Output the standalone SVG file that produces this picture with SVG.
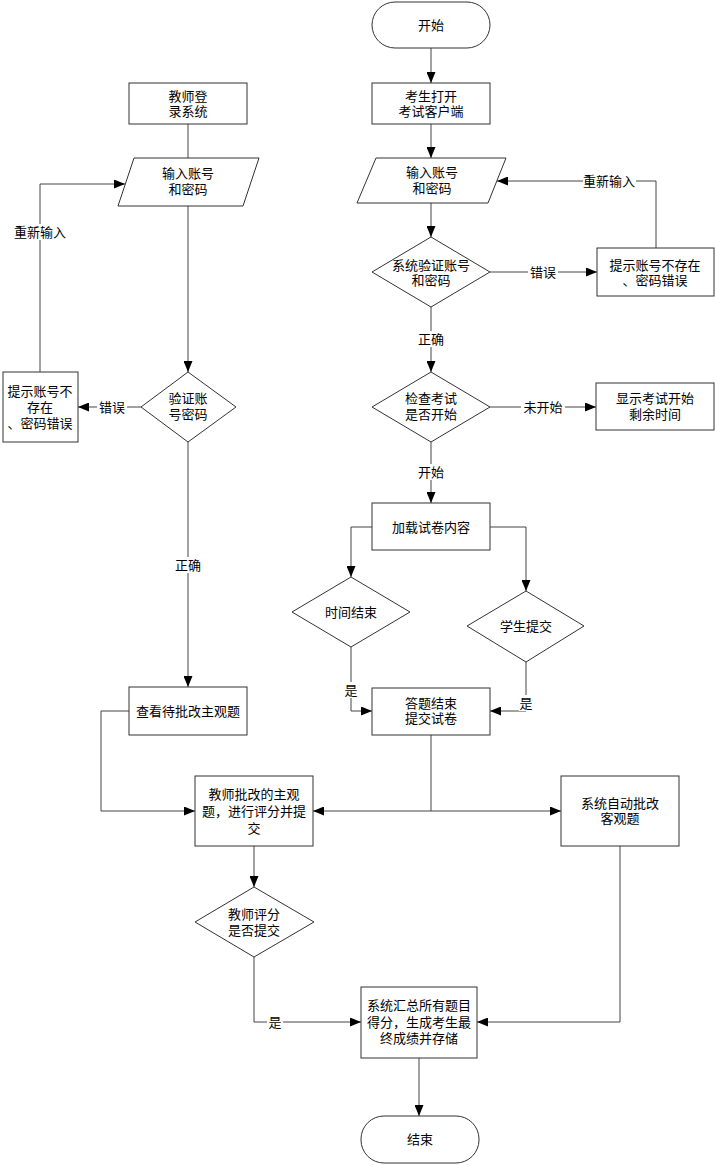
<svg xmlns="http://www.w3.org/2000/svg" width="715" height="1165" viewBox="0 0 715 1165">
<style>
.n{fill:#fff;stroke:#333;stroke-width:1}
.c{fill:none;stroke:#444;stroke-width:1}
.lb{fill:#fff;stroke:none}
text{font-family:"Noto Sans CJK SC","Liberation Sans",sans-serif;font-size:13px;text-anchor:middle;fill:#000}
</style>
<defs>
<marker id="a" markerWidth="11" markerHeight="9" refX="11" refY="4.5" orient="auto" markerUnits="userSpaceOnUse">
<path d="M0,0 L11,4.5 L0,9 z" fill="#000"/>
</marker>
</defs>
<rect width="715" height="1165" fill="#fff"/>
<g id="connectors">
<path class="c" d="M431,48 V83" marker-end="url(#a)"/>
<path class="c" d="M431,124 V158" marker-end="url(#a)"/>
<path class="c" d="M431,203 V237" marker-end="url(#a)"/>
<path class="c" d="M490,272 H597" marker-end="url(#a)"/>
<path class="c" d="M656,248 V181 H497" marker-end="url(#a)"/>
<path class="c" d="M431,307 V372" marker-end="url(#a)"/>
<path class="c" d="M490,407 H596" marker-end="url(#a)"/>
<path class="c" d="M431,442 V503" marker-end="url(#a)"/>
<path class="c" d="M372,527 H351 V577" marker-end="url(#a)"/>
<path class="c" d="M490,527 H526 V591" marker-end="url(#a)"/>
<path class="c" d="M351,647 V711 H372" marker-end="url(#a)"/>
<path class="c" d="M526,662 V711 H490" marker-end="url(#a)"/>
<path class="c" d="M431,735 V811 H313" marker-end="url(#a)"/>
<path class="c" d="M431,811 H561" marker-end="url(#a)"/>
<path class="c" d="M129,711 H101 V811 H195" marker-end="url(#a)"/>
<path class="c" d="M254,846 V887" marker-end="url(#a)"/>
<path class="c" d="M254,957 V1022 H361" marker-end="url(#a)"/>
<path class="c" d="M620,846 V1022 H477" marker-end="url(#a)"/>
<path class="c" d="M419,1058 V1116" marker-end="url(#a)"/>
<path class="c" d="M188,124 V158"/>
<path class="c" d="M188,206 V372" marker-end="url(#a)"/>
<path class="c" d="M141,407 H78" marker-end="url(#a)"/>
<path class="c" d="M40,372 V184 H125" marker-end="url(#a)"/>
<path class="c" d="M188,442 V687" marker-end="url(#a)"/>
<g id="labels">
<rect class="lb" x="528" y="264" width="30" height="16"/><text x="543" y="276.5">错误</text>
<rect class="lb" x="583" y="173" width="53" height="16"/><text x="609" y="185.5">重新输入</text>
<rect class="lb" x="416" y="331" width="30" height="16"/><text x="431" y="343.5">正确</text>
<rect class="lb" x="521" y="399" width="44" height="16"/><text x="543" y="411.5">未开始</text>
<rect class="lb" x="416" y="464" width="30" height="16"/><text x="431" y="476.5">开始</text>
<rect class="lb" x="344" y="682" width="15" height="16"/><text x="351" y="694.5">是</text>
<rect class="lb" x="519" y="695" width="15" height="16"/><text x="526" y="707.5">是</text>
<rect class="lb" x="267" y="1014" width="16" height="16"/><text x="275" y="1026.5">是</text>
<rect class="lb" x="97" y="399" width="30" height="16"/><text x="112" y="411.5">错误</text>
<rect class="lb" x="14" y="224" width="53" height="16"/><text x="40" y="236.5">重新输入</text>
<rect class="lb" x="173" y="557" width="30" height="16"/><text x="188" y="569.5">正确</text>
</g>
</g>
<g id="start"><rect class="n" x="372" y="2" width="118" height="46" rx="23"/><text x="431" y="29.5">开始</text></g>
<g id="open"><rect class="n" x="372" y="83" width="118" height="41"/><text x="431" y="101">考生打开</text><text x="431" y="116">考试客户端</text></g>
<g id="input2"><polygon class="n" points="376,158 506,158 488,203 357,203"/><text x="432" y="177">输入账号</text><text x="432" y="192.5">和密码</text></g>
<g id="verify2"><polygon class="n" points="431,237 490,272 431,307 372,272"/><text x="431" y="269.5">系统验证账号</text><text x="431" y="285">和密码</text></g>
<g id="err2"><rect class="n" x="597" y="248" width="117" height="48"/><text x="655" y="269.5">提示账号不存在</text><text x="655" y="285">、密码错误</text></g>
<g id="check"><polygon class="n" points="431,372 490,407 431,442 372,407"/><text x="431" y="403">检查考试</text><text x="431" y="418.5">是否开始</text></g>
<g id="remain"><rect class="n" x="596" y="383" width="118" height="47"/><text x="655" y="403">显示考试开始</text><text x="655" y="418.5">剩余时间</text></g>
<g id="load"><rect class="n" x="372" y="503" width="118" height="47"/><text x="431" y="531.5">加载试卷内容</text></g>
<g id="timeup"><polygon class="n" points="351,577 410,612 351,647 292,612"/><text x="351" y="616.5">时间结束</text></g>
<g id="submit"><polygon class="n" points="526,591 584,626 526,662 467,626"/><text x="526" y="630.5">学生提交</text></g>
<g id="finish"><rect class="n" x="372" y="688" width="118" height="47"/><text x="431" y="707.5">答题结束</text><text x="431" y="723">提交试卷</text></g>
<g id="tlogin"><rect class="n" x="129" y="83" width="118" height="41"/><text x="188" y="100.5">教师登</text><text x="188" y="115.5">录系统</text></g>
<g id="input1"><polygon class="n" points="134,158 259,158 243,206 118,206"/><text x="188" y="178">输入账号</text><text x="188" y="194">和密码</text></g>
<g id="verify1"><polygon class="n" points="188,372 236,407 188,442 141,407"/><text x="188" y="403">验证账</text><text x="188" y="418.5">号密码</text></g>
<g id="err1"><rect class="n" x="3" y="372" width="75" height="70"/><text x="40" y="395.5">提示账号不</text><text x="40" y="411.5">存在</text><text x="40" y="427.5">、密码错误</text></g>
<g id="view"><rect class="n" x="129" y="687" width="118" height="48"/><text x="188" y="715.5">查看待批改主观题</text></g>
<g id="grade"><rect class="n" x="195" y="776" width="118" height="70"/><text x="254" y="799">教师批改的主观</text><text x="254" y="816">题，进行评分并提</text><text x="254" y="833">交</text></g>
<g id="auto"><rect class="n" x="561" y="776" width="118" height="70"/><text x="620" y="807.5">系统自动批改</text><text x="620" y="823">客观题</text></g>
<g id="gsubmit"><polygon class="n" points="254,887 314,922 254,957 195,922"/><text x="254" y="918.5">教师评分</text><text x="254" y="935">是否提交</text></g>
<g id="summary"><rect class="n" x="361" y="987" width="116" height="71"/><text x="419" y="1010">系统汇总所有题目</text><text x="419" y="1026.5">得分，生成考生最</text><text x="419" y="1043">终成绩并存储</text></g>
<g id="end"><rect class="n" x="361" y="1116" width="118" height="47" rx="23"/><text x="420" y="1143.5">结束</text></g>
</svg>
